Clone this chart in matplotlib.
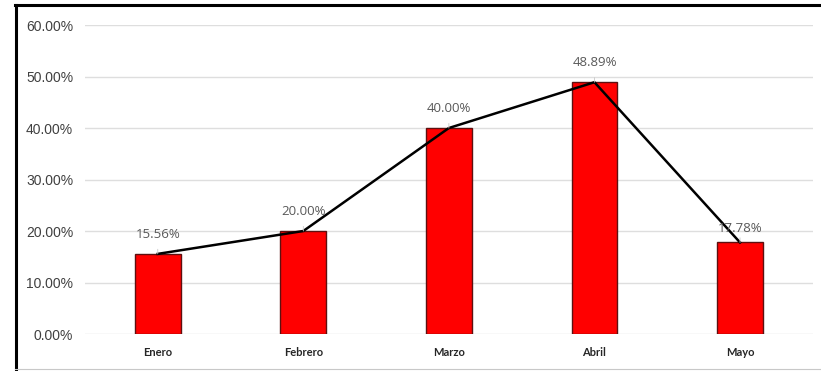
import matplotlib.pyplot as plt
from matplotlib.lines import Line2D
import numpy as np

meses = ["Enero", "Febrero", "Marzo", "Abril", "Mayo"]
valores = [0.1556, 0.2000, 0.4000, 0.4889, 0.1778]
etiquetas = ["15.56%", "20.00%", "40.00%", "48.89%", "17.78%"]
yticks = [0.0, 0.1, 0.2, 0.3, 0.4, 0.5, 0.6]

fig = plt.figure(figsize=(8.21, 3.71), dpi=100)
ax = fig.add_axes([0.1035, 0.0997, 0.8865, 0.8329])

x = np.arange(len(meses))

# barras rojas con borde oscuro
ax.bar(x, valores, width=0.315, color='#ff0000', edgecolor='#5e1010', linewidth=1.0, zorder=2)

# linea negra sobre las barras
ax.plot(x, valores, color='black', linewidth=1.8, zorder=3)

# etiquetas de datos con linea guia
for xi, v, t in zip(x, valores, etiquetas):
    dy = 10 if t == "17.78%" else 14
    ax.annotate(t, xy=(xi, v), xytext=(0, dy), textcoords='offset points',
                ha='center', va='center', fontsize=9.5, color='#595959',
                family='Open Sans', zorder=4,
                arrowprops=dict(arrowstyle='-', color='#c8c8c8', lw=0.6,
                                shrinkA=4, shrinkB=0))

ax.set_xlim(-0.5, len(meses) - 0.5)
ax.set_ylim(0, 0.6)
ax.set_yticks(yticks)
ax.set_yticklabels(["%.2f%%" % (t * 100) for t in yticks], fontsize=10,
                   color='#404040', family='Liberation Sans')
ax.set_xticks(x)
ax.set_xticklabels(meses, fontsize=8, fontweight='bold', color='#262626', family='Lato')

ax.grid(axis='y', color='#dedede', linewidth=1.0, zorder=0)
ax.set_axisbelow(True)
for s in ax.spines.values():
    s.set_visible(False)
ax.tick_params(axis='both', length=0)
ax.tick_params(axis='y', pad=8.5)
ax.tick_params(axis='x', pad=9)

# marco de la imagen (izquierda y arriba negro, abajo gris)
W, H = 821.0, 371.0
fig.add_artist(Line2D([15.5 / W, 15.5 / W], [0, 1 - 5 / H], color='black', lw=2.2))
fig.add_artist(Line2D([15 / W, 1], [1 - 5 / H, 1 - 5 / H], color='black', lw=2.2))
fig.add_artist(Line2D([15 / W, 1], [2 / H, 2 / H], color='#c8c8c8', lw=0.8))

fig.savefig("out.png", dpi=100)
